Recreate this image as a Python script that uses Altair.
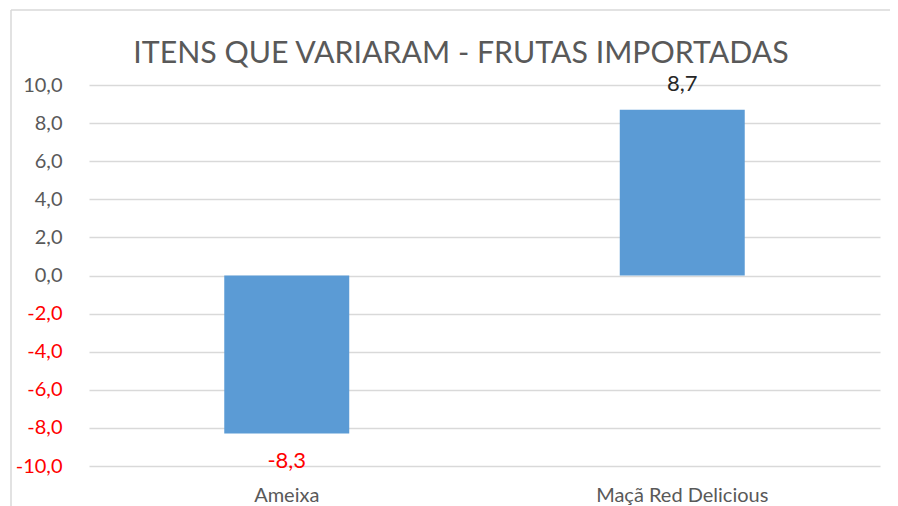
import altair as alt
import pandas as pd

categories = ["Ameixa", "Maçã Red Delicious"]
values = [-8.3, 8.7]
title_text = "ITENS QUE VARIARAM - FRUTAS IMPORTADAS"
y_ticks = [-10, -8, -6, -4, -2, 0, 2, 4, 6, 8, 10]

df = pd.DataFrame({"cat": categories, "val": values})

FONT = "Lato"
GRAY = "#595959"
GRID = "#D9D9D9"
BLUE = "#5B9BD5"
RED = "#FF0000"
FMT = "replace(replace(format({v}, '.1f'), '.', ','), '\u2212', '-')"

x_axis = alt.Axis(title=None, labelAngle=0, domain=False, ticks=False,
                  labelFontSize=20, labelColor=GRAY, labelFont=FONT,
                  labelPadding=19, labelLimit=0)
x_scale = alt.Scale(paddingInner=0.684, paddingOuter=0.342)
y_axis = alt.Axis(title=None, values=y_ticks, domain=False, ticks=False,
                  labelFontSize=20, labelFont=FONT, labelPadding=27,
                  labelOverlap=False,
                  labelColor={"expr": f"datum.value < 0 ? '{RED}' : '{GRAY}'"},
                  labelExpr=FMT.format(v="datum.value"),
                  gridColor=GRID, gridWidth=1.5)
y_scale = alt.Scale(domain=[-10, 10], nice=False)

x_enc = alt.X("cat:N", sort=categories, scale=x_scale, axis=x_axis)
y_enc = alt.Y("val:Q", scale=y_scale, axis=y_axis)

base = alt.Chart(df)

bars = base.mark_bar(color=BLUE).encode(x=x_enc, y=y_enc)

labels_fmt = base.transform_calculate(lbl=FMT.format(v="datum.val"))

neg_labels = labels_fmt.transform_filter("datum.val < 0").mark_text(
    baseline="middle", dy=27, fontSize=22, font=FONT, color=RED
).encode(x=x_enc, y=y_enc, text="lbl:N")

pos_labels = labels_fmt.transform_filter("datum.val >= 0").mark_text(
    baseline="middle", dy=-26, fontSize=22, font=FONT, color="#262626"
).encode(x=x_enc, y=y_enc, text="lbl:N")

one = pd.DataFrame({"k": [0]})
border_top = alt.Chart(one).mark_rule(color=GRID, strokeWidth=1.5).encode(
    x=alt.value(-78), x2=alt.value(1000), y=alt.value(-75)
)
border_left = alt.Chart(one).mark_rule(color=GRID, strokeWidth=1.5).encode(
    x=alt.value(-78), y=alt.value(-75), y2=alt.value(500)
)
title = alt.Chart(one).mark_text(
    text=title_text, fontSize=30.3, font=FONT, color=GRAY, baseline="alphabetic", align="center"
).encode(x=alt.value(372), y=alt.value(-22))

chart = alt.layer(bars, neg_labels, pos_labels, border_top, border_left, title).properties(
    width=791, height=381,
    background="white",
    autosize=alt.AutoSizeParams(type="none"),
    padding={"left": 81, "top": 77, "right": 10, "bottom": 40},
).configure_view(stroke=None)

chart.save("out.html", embed_options={"renderer": "svg", "actions": False})
